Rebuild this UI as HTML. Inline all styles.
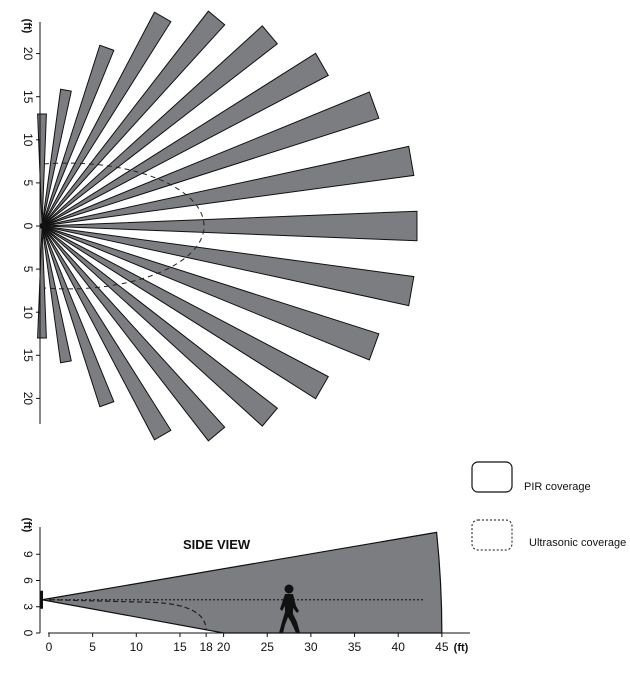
<!DOCTYPE html>
<html><head><meta charset="utf-8"><style>
html,body{margin:0;padding:0;background:#fff;}
svg{display:block;font-family:"Liberation Sans",sans-serif;}
</style></head><body>
<svg id="c" width="630" height="676" viewBox="0 0 630 676"></svg>
<script>
// Top view data
const beamAngles = [90,80,70,60,50,40,30,20,10,0,-10,-20,-30,-40,-50,-60,-70,-80,-90];
const beamLengths = [13,16,22,28,31.5,34.5,37.5,41,43.5,43.5,43.5,41,37.5,34.5,31.5,28,22,16,13]; // ft
const topTicks = [20,15,10,5,0,-5,-10,-15,-20];
const usRangeTop = 18.8; // ft, ultrasonic forward range
const usHalfWidth = 7.3; // ft
// Side view data
const sideXTicks = [0,5,10,15,18,20,25,30,35,40,45];
const sideYTicks = [0,3,6,9];
const mountHeight = 3.8, pirTopEnd = 11.5, pirFloorHit = 20, pirRange = 45, usRange = 18, dotRange = 43;

const NS="http://www.w3.org/2000/svg", svg=document.getElementById('c');
function mk(t,a,p){const e=document.createElementNS(NS,t);for(const k in a)e.setAttribute(k,a[k]);(p||svg).appendChild(e);return e;}
const GRAY="#7b7d80";
const ox=42, oy=226, s=8.62;
const tx=v=>ox+v*s, ty=v=>oy-v*s;
const half=2.25*Math.PI/180;
beamAngles.forEach((a,i)=>{
  const r=beamLengths[i]*s, t=a*Math.PI/180;
  const p1=[ox+r*Math.cos(t+half)/Math.cos(half), oy-r*Math.sin(t+half)/Math.cos(half)];
  const p2=[ox+r*Math.cos(t-half)/Math.cos(half), oy-r*Math.sin(t-half)/Math.cos(half)];
  const w=mk('polygon',{points:`${ox},${oy} ${p1} ${p2}`,fill:GRAY,stroke:"#111","stroke-width":1});
  
  
});
const cx=ox+3*s, rx=(usRangeTop-3)*s, ry=usHalfWidth*s;
const xs0=ox+2;
const dy0=ry*Math.sqrt(1-Math.pow((xs0-cx)/rx,2));
const us=mk('path',{d:`M${xs0},${oy-dy0} A${rx},${ry} 0 1 1 ${xs0},${oy+dy0}`,fill:"none",stroke:"#222","stroke-width":1,"stroke-dasharray":"5,4"});


mk('circle',{cx:ox+2,cy:oy,r:4,fill:"#111",});
mk('line',{x1:40,y1:22,x2:40,y2:424,stroke:"#111","stroke-width":1,});
topTicks.forEach(v=>{
  const y=ty(v);
  const l=mk('line',{x1:36,y1:y,x2:40,y2:y,stroke:"#111"});
  
  
  const t=mk('text',{x:0,y:0,transform:`translate(24,${y}) rotate(90)`,"text-anchor":"middle","font-size":12,fill:"#111"});
  t.textContent=Math.abs(v);
  
  
});
const ft1=mk('text',{transform:"translate(24,26) rotate(90)","text-anchor":"middle","font-size":11,"font-weight":"bold",fill:"#111",});ft1.textContent="(ft)";

const sx0=49, sy0=633, sxs=8.73, sys=8.75;
const sx=v=>sx0+v*sxs, sy=v=>sy0-v*sys;
const cone=mk('path',{d:`M${sx(-0.8)},${sy(mountHeight)} L${sx(pirRange-0.6)},${sy(pirTopEnd)} Q${sx(pirRange)},${sy(pirTopEnd/2)} ${sx(pirRange)},${sy(0)} L${sx(pirFloorHit)},${sy(0)} Z`,fill:GRAY,stroke:"#111","stroke-width":1.2});


mk('line',{x1:sx(0),y1:sy(mountHeight),x2:sx(dotRange),y2:sy(mountHeight),stroke:"#222","stroke-width":1.2,"stroke-dasharray":"2,2",});
mk('path',{d:`M${sx(0)},${sy(mountHeight)} L${sx(usRange-6)},${sy(mountHeight-0.3)} Q${sx(usRange)},${sy(mountHeight-0.6)} ${sx(usRange)},${sy(0.3)}`,fill:"none",stroke:"#222","stroke-width":1.2,"stroke-dasharray":"5,3",});
mk('rect',{x:40,y:sy(mountHeight)-9,width:3,height:18,fill:"#111",});
const pg=mk('g',{fill:"#111",});
mk('circle',{cx:289,cy:589,r:4.5},pg);
mk('path',{d:"M285,594 L293,594 L296,606 L299,611 L297,613 L293,608 L293,614 L297,622 L300,633 L296,633 L291,622 L288,617 L285,625 L283,633 L279,633 L282,622 L285,612 L285,606 L282,611 L280,609 Z"},pg);
mk('line',{x1:40,y1:527,x2:40,y2:633,stroke:"#111",});
mk('line',{x1:48,y1:633,x2:470,y2:633,stroke:"#111",});
sideYTicks.forEach(v=>{
  const y=sy(v);
  const l=mk('line',{x1:36,y1:y,x2:40,y2:y,stroke:"#111"});
  
  
  const t=mk('text',{transform:`translate(24,${y}) rotate(90)`,"text-anchor":"middle","font-size":12,fill:"#111"});
  t.textContent=v;
  
  
});
const ft2=mk('text',{transform:"translate(24,525) rotate(90)","text-anchor":"middle","font-size":11,"font-weight":"bold",fill:"#111",});ft2.textContent="(ft)";
sideXTicks.forEach(v=>{
  const x=sx(v);
  const l=mk('line',{x1:x,y1:633,x2:x,y2:637,stroke:"#111"});
  
  
  const t=mk('text',{x:x,y:651,"text-anchor":"middle","font-size":12,fill:"#111"});
  t.textContent=v;
  
  
});
const ft3=mk('text',{x:461,y:651,"text-anchor":"middle","font-size":11,"font-weight":"bold",fill:"#111",});ft3.textContent="(ft)";
const sv=mk('text',{x:183,y:549,"font-size":13,"font-weight":"bold",fill:"#111",});sv.textContent="SIDE VIEW";
mk('rect',{x:472,y:462,width:40,height:30,rx:6,fill:"#fff",stroke:"#111","stroke-width":1.2,});
const l1=mk('text',{x:524,y:490,"font-size":11,fill:"#111",});l1.textContent="PIR coverage";
mk('rect',{x:472,y:520,width:40,height:30,rx:6,fill:"#fff",stroke:"#111","stroke-width":1,"stroke-dasharray":"2,2",});
const l2=mk('text',{x:529,y:546,"font-size":11,fill:"#111",});l2.textContent="Ultrasonic coverage";
</script>
</body></html>
